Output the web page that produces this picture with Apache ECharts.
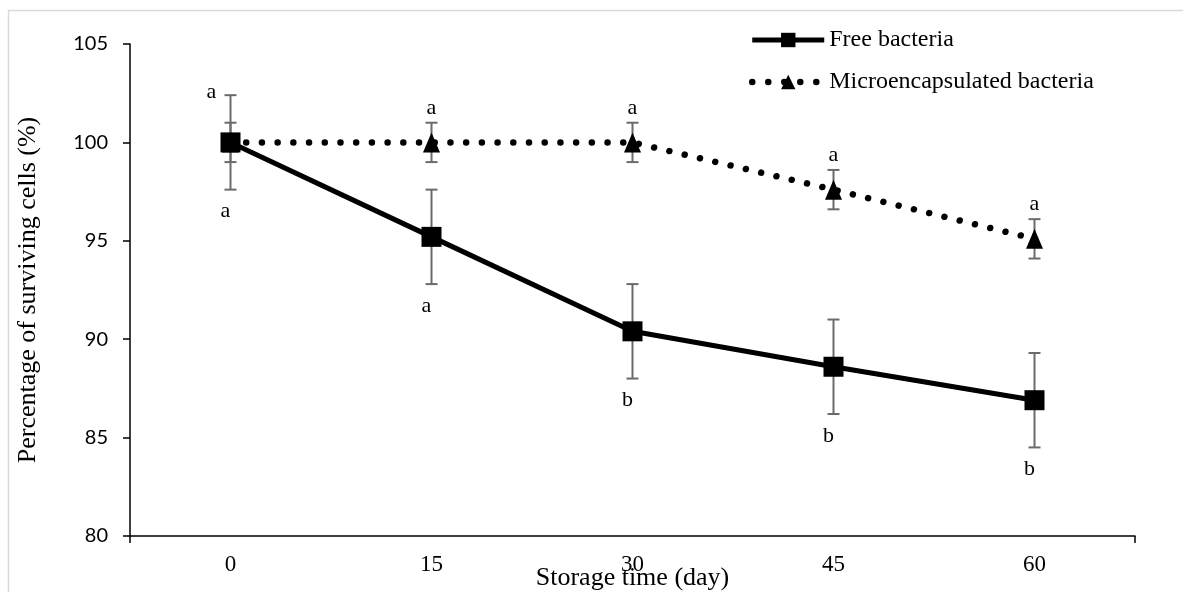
<!DOCTYPE html>
<html><head><meta charset="utf-8">
<script src="https://cdn.jsdelivr.net/npm/echarts@6/dist/echarts.min.js"></script>
<style>html,body{margin:0;padding:0;background:#fff}#c{width:1183px;height:592px}</style>
</head><body><div id="c"></div>
<script>
const days = ['0', '15', '30', '45', '60'];
const freeMean = [100, 95.2, 90.4, 88.6, 86.9];
const freeSD = [2.4, 2.4, 2.4, 2.4, 2.4];
const freeLetters = ['a', 'a', 'b', 'b', 'b'];
const microMean = [100, 100, 100, 97.6, 95.1];
const microSD = [1.0, 1.0, 1.0, 1.0, 1.0];
const microLetters = ['a', 'a', 'a', 'a', 'a'];
const yTicks = [80, 85, 90, 95, 100, 105];

const serif = '"Liberation Serif", "Times New Roman", serif';
const freeHigh = freeMean.map((v, i) => v + freeSD[i]);

function errData(mean, sd) {
  return mean.map((v, i) => [i, v - sd[i], v + sd[i]]);
}

function errRender(letters, below, otherHigh) {
  return function (params, api) {
    const i = params.dataIndex;
    const x = api.value(0), lo = api.value(1), hi = api.value(2);
    const pLo = api.coord([x, lo]), pHi = api.coord([x, hi]);
    const cx = pLo[0], w = 6;
    const st = { stroke: '#6b6b6b', lineWidth: 2 };
    const children = [
      { type: 'line', shape: { x1: cx, y1: pHi[1], x2: cx, y2: pLo[1] }, style: st },
      { type: 'line', shape: { x1: cx - w, y1: pHi[1], x2: cx + w, y2: pHi[1] }, style: st },
      { type: 'line', shape: { x1: cx - w, y1: pLo[1], x2: cx + w, y2: pLo[1] }, style: st }
    ];
    let tx, ty;
    if (below) { tx = cx - 5; ty = pLo[1] + 22; }
    else {
      const oh = otherHigh ? otherHigh[i] : null;
      if (oh != null && oh > hi) { const po = api.coord([x, oh]); tx = cx - 19; ty = po[1] - 3; }
      else { tx = cx; ty = pHi[1] - 15; }
    }
    children.push({
      type: 'text', x: tx, y: ty,
      style: { text: letters[i], fill: '#000', fontSize: 22, fontFamily: serif, align: 'center', verticalAlign: 'middle' }
    });
    return { type: 'group', children };
  };
}

const chart = echarts.init(document.getElementById('c'));
chart.setOption({
  animation: false,
  backgroundColor: '#fff',
  grid: { left: 130, right: 48, top: 44, bottom: 56, containLabel: false, outerBoundsMode: 'none' },
  legend: {
    orient: 'vertical', left: 749, top: 28, padding: 0, itemWidth: 72, itemHeight: 18, itemGap: 18,
    textStyle: { fontFamily: serif, fontSize: 24, color: '#000' },
    data: [
      { name: 'Free bacteria', lineStyle: { width: 5 } },
      { name: 'Microencapsulated bacteria', lineStyle: { width: 6.5, type: [0.01, 16], cap: 'round' } }
    ]
  },
  xAxis: [{
    type: 'category', data: days, boundaryGap: true,
    axisLine: { lineStyle: { color: '#000', width: 1.5 } },
    axisTick: { alignWithLabel: true, length: 7, lineStyle: { color: '#000', width: 1.5 } },
    axisLabel: { fontFamily: serif, fontSize: 23, color: '#000', margin: 17 },
    splitLine: { show: false }
  }, {
    type: 'category', data: days, boundaryGap: true, position: 'bottom',
    axisLine: { show: false },
    axisTick: { show: true, length: 7, interval: (i) => i === 0, lineStyle: { color: '#000', width: 1.5 } },
    axisLabel: { show: false }, splitLine: { show: false }
  }],
  yAxis: {
    type: 'value', min: yTicks[0], max: yTicks[yTicks.length - 1], interval: yTicks[1] - yTicks[0],
    name: 'Percentage of surviving cells (%)', nameLocation: 'middle', nameGap: 89,
    nameTextStyle: { fontFamily: serif, fontSize: 26, color: '#000' },
    axisLine: { show: true, lineStyle: { color: '#000', width: 1.5 } },
    axisTick: { show: true, length: 7, lineStyle: { color: '#000', width: 1.5 } },
    axisLabel: { fontFamily: 'Lato, "Open Sans", sans-serif', fontSize: 20, color: '#000', margin: 22 },
    splitLine: { show: false }
  },
  graphic: [
    { type: 'rect', shape: { x: 8.5, y: 10.5, width: 1300, height: 700 }, style: { fill: 'none', stroke: '#d9d9d9', lineWidth: 1.5 }, silent: true },
    { type: 'text', x: 632.5, y: 578, style: { text: 'Storage time (day)', fontFamily: serif, fontSize: 26, fill: '#000', align: 'center', verticalAlign: 'middle' } }
  ],
  series: [
    {
      type: 'custom', name: 'freeErr', z: 1, renderItem: errRender(freeLetters, true, null),
      data: errData(freeMean, freeSD), encode: { x: 0, y: [1, 2] }
    },
    {
      type: 'custom', name: 'microErr', z: 1, renderItem: errRender(microLetters, false, freeHigh),
      data: errData(microMean, microSD), encode: { x: 0, y: [1, 2] }
    },
    {
      type: 'line', name: 'Free bacteria', data: freeMean, z: 3,
      symbol: 'rect', symbolSize: 20,
      lineStyle: { color: '#000', width: 5 }, itemStyle: { color: '#000' }
    },
    {
      type: 'line', name: 'Microencapsulated bacteria', data: microMean, z: 2,
      symbol: 'triangle', symbolSize: [17, 20],
      lineStyle: { color: '#000', width: 6.5, type: [0.01, 15.7], cap: 'round' }, itemStyle: { color: '#000' }
    }
  ]
});
</script>
</body></html>
